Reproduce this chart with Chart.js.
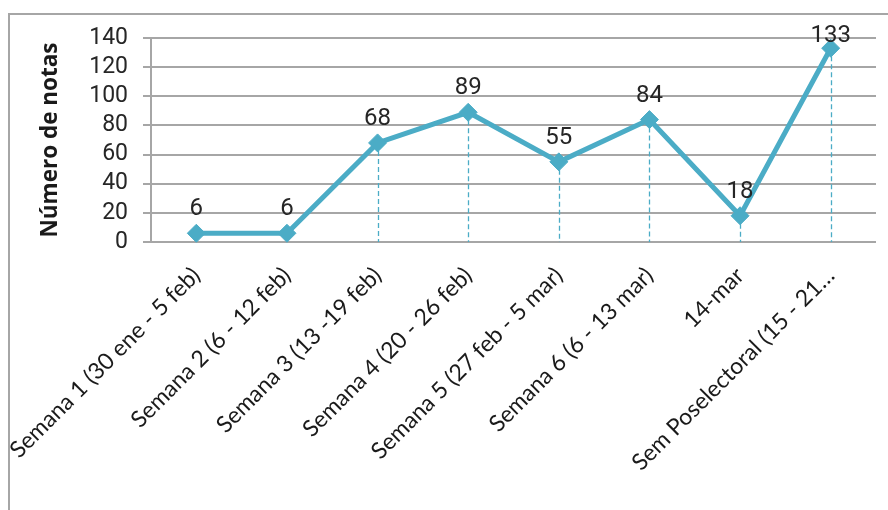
<!DOCTYPE html>
<html lang="es">
  <head>
    <meta charset="UTF-8">
    <title>Número de notas</title>
    <script src="https://cdn.jsdelivr.net/npm/chart.js@4.4.6/dist/chart.umd.min.js"></script>
    <style>
      html, body { margin: 0; padding: 0; background: #fff; }
      #wrap { position: relative; width: 888px; height: 510px; overflow: hidden; }
      #frame { position: absolute; left: 8px; top: 13px; width: 900px; height: 520px; border: 2px solid #a6a6a6; box-sizing: border-box; }
      canvas { position: absolute; left: 0; top: 0; }
    </style>
  </head>
  <body>
    <div id="wrap">
      <div id="frame"></div>
      <canvas id="chart" width="888" height="510"></canvas>
    </div>
    <script>
      // data
      const weeks = [
        "Semana 1 (30 ene - 5 feb)",
        "Semana 2 (6 - 12 feb)",
        "Semana 3 (13 -19 feb)",
        "Semana 4 (20 - 26 feb)",
        "Semana 5 (27 feb - 5 mar)",
        "Semana 6 (6 - 13 mar)",
        "14-mar",
        "Sem Poselectoral (15 - 21…"
      ];
      const notas = [6, 6, 68, 89, 55, 84, 18, 133];
      const yTicks = [0, 20, 40, 60, 80, 100, 120, 140];

      const lineColor = "#4bacc6";

      // dashed drop lines + value labels
      const extras = {
        id: "extras",
        beforeDatasetsDraw(chart) {
          const ctx = chart.ctx;
          const xs = chart.scales.x, ys = chart.scales.y;
          const y0 = ys.getPixelForValue(0);
          ctx.save();
          ctx.strokeStyle = lineColor;
          ctx.lineWidth = 1.3;
          ctx.setLineDash([5, 3]);
          notas.forEach((v, i) => {
            const x = Math.round(xs.getPixelForValue(i)) + 0.5;
            ctx.beginPath();
            ctx.moveTo(x, ys.getPixelForValue(v));
            ctx.lineTo(x, y0);
            ctx.stroke();
          });
          ctx.restore();
        },
        afterDatasetsDraw(chart) {
          const ctx = chart.ctx;
          const xs = chart.scales.x, ys = chart.scales.y;
          ctx.save();
          ctx.fillStyle = "#262626";
          ctx.font = "24px Roboto";
          ctx.textAlign = "center";
          ctx.textBaseline = "alphabetic";
          notas.forEach((v, i) => {
            // keep the label inside the frame, as the original does
            const y = Math.max(ys.getPixelForValue(v) - 18, 42);
            ctx.fillText(String(v), xs.getPixelForValue(i), y);
          });
          ctx.restore();
        }
      };

      new Chart(document.getElementById("chart"), {
        type: "line",
        data: {
          labels: weeks,
          datasets: [{
            data: notas,
            borderColor: lineColor,
            backgroundColor: lineColor,
            borderWidth: 5,
            pointStyle: "rectRot",
            pointRadius: 9,
            pointBorderWidth: 1,
            tension: 0,
            clip: false
          }]
        },
        options: {
          responsive: false,
          animation: false,
          layout: { padding: { top: 38, right: 12, left: 37, bottom: 0 } },
          plugins: { legend: { display: false }, tooltip: { enabled: false } },
          scales: {
            x: {
              offset: true,
              grid: { display: false },
              border: { display: false },
              ticks: {
                minRotation: 45,
                maxRotation: 45,
                autoSkip: false,
                padding: 12,
                color: "#1a1a1a",
                font: { family: "Lato", size: 23 }
              },
              afterFit: (s) => { s.height = 268; s.paddingLeft = 0; s.paddingRight = 0; }
            },
            y: {
              min: 0,
              max: 140,
              afterBuildTicks: (s) => { s.ticks = yTicks.map(v => ({ value: v })); },
              grid: { color: "#a6a6a6", lineWidth: 2, tickLength: 8 },
              border: { color: "#a6a6a6", width: 2 },
              title: {
                display: true,
                text: "Número de notas",
                color: "#1a1a1a",
                font: { family: "'Open Sans'", size: 22.5, weight: "bold" },
                padding: { top: 0, bottom: 0 }
              },
              ticks: {
                autoSkip: false,
                padding: 15,
                color: "#262626",
                font: { family: "Roboto", size: 23 }
              },
              afterFit: (s) => { s.width = 114; }
            }
          }
        },
        plugins: [extras]
      });
    </script>
  </body>
</html>
